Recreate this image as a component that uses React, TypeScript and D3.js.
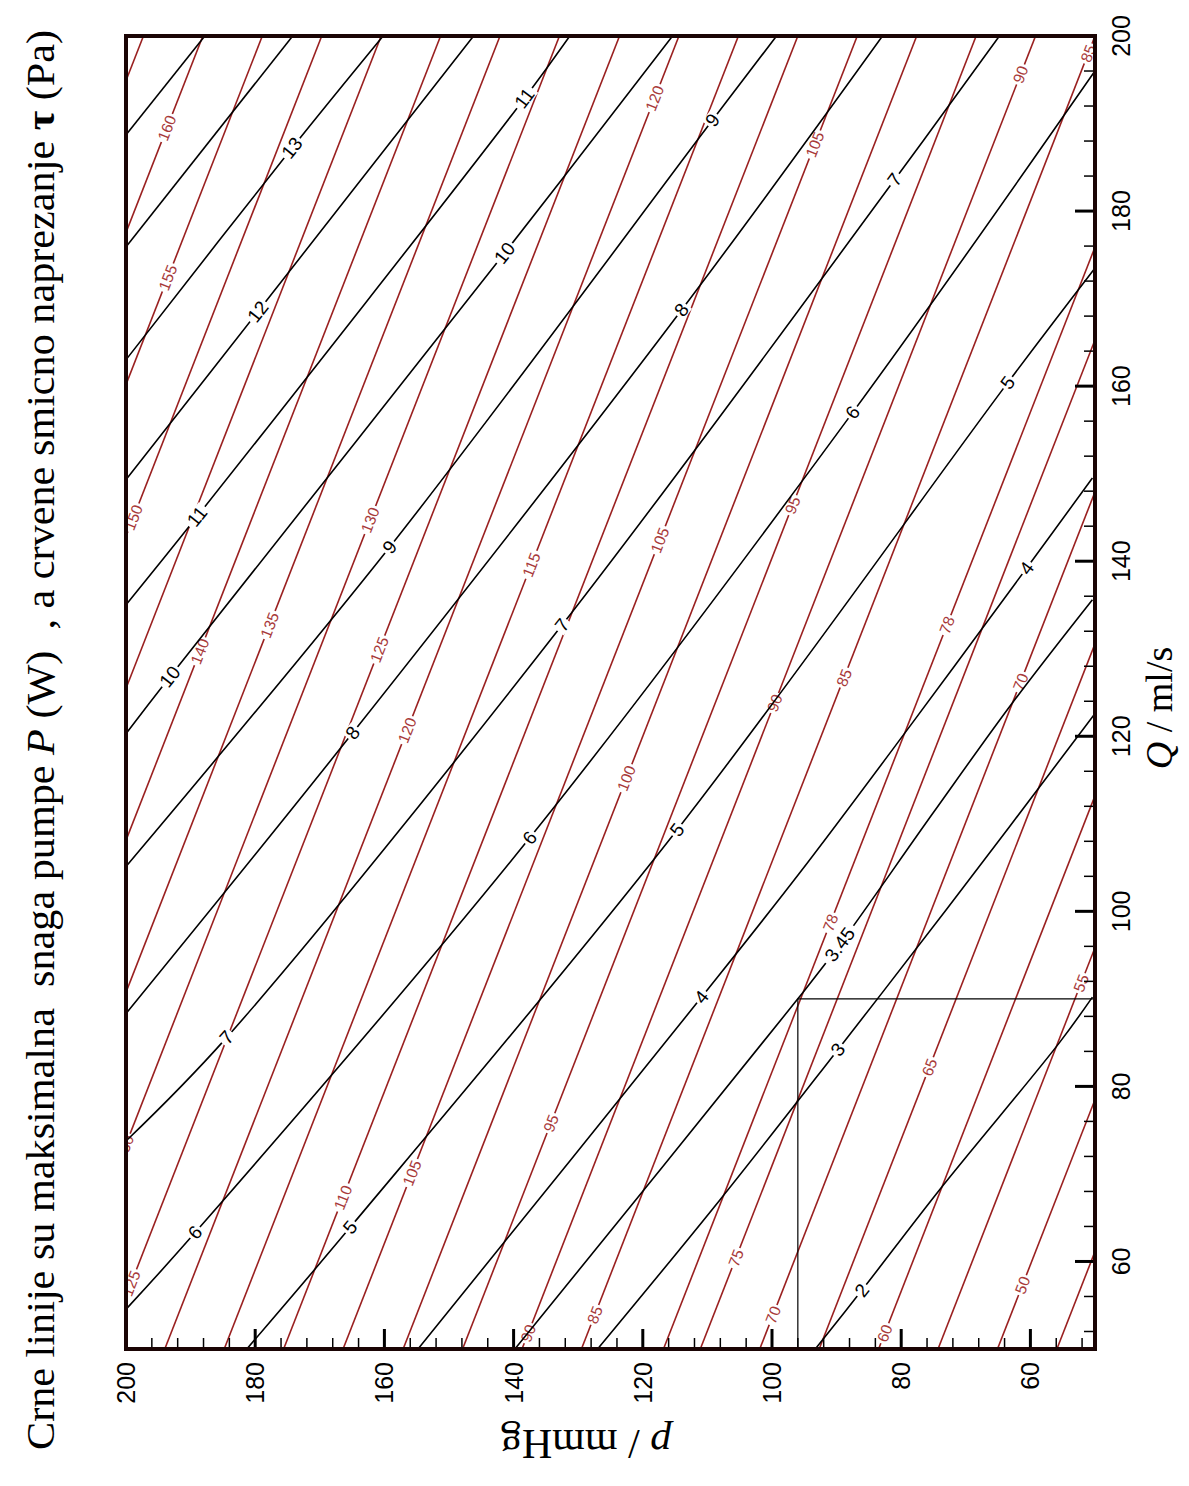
import React from 'react';
import * as d3 from 'd3';

const W = 1189;
const H = 1486;

// Axis ticks (values)
const qMajorTicks = [60, 80, 100, 120, 140, 160, 180, 200];
const pMajorTicks = [60, 80, 100, 120, 140, 160, 180, 200];
const minorStep = 4;

// Operating point marked with drop lines
const opQ = 90;
const opP = 96;

// Black iso-power lines P (W): points as Q (ml/s) and p (mmHg)
const powerLines = [
  { P: 15, Q: [188.9, 200], p: [199.8, 187.8] },
  { P: 14, Q: [176.1, 200], p: [199.8, 174.2] },
  { P: 13, Q: [163.2, 187.2, 200], p: [199.8, 174.3, 160.2] },
  { P: 12, Q: [149.5, 168.5, 200], p: [199.8, 179.6, 146.2] },
  { P: 11, Q: [135.2, 145.1, 192.9, 200], p: [199.8, 189.0, 138.3, 131.3] },
  { P: 10, Q: [120.5, 126.8, 175.2, 200], p: [199.8, 193.2, 141.4, 115.4] },
  { P: 9, Q: [105.3, 141.6, 190.4, 200], p: [199.8, 159.2, 109.2, 99.3] },
  { P: 8, Q: [88.5, 120.4, 168.7, 200], p: [199.8, 164.9, 114.0, 82.9] },
  { P: 7, Q: [73.9, 85.6, 132.7, 183.6, 200], p: [199.8, 184.4, 132.5, 81.0, 64.8] },
  { P: 6, Q: [54.7, 63.3, 108.4, 157.0, 195.8], p: [199.8, 189.3, 137.5, 87.5, 50.2] },
  { P: 5, Q: [50, 63.9, 109.3, 160.4, 173.3], p: [181.3, 165.3, 114.7, 63.5, 50.2] },
  { P: 4, Q: [50, 90.2, 104.4, 121.1, 139.2, 149.5], p: [154.8, 110.9, 95.7, 78.7, 60.6, 50.4] },
  { P: 3.45, Q: [50, 90, 96.2, 111.2, 123.8, 135.6], p: [139.8, 96, 89.5, 75.1, 62.8, 50.4] },
  { P: 3, Q: [50, 67.0, 84.2, 100.2, 122.4], p: [127.0, 108.1, 89.8, 73.0, 50.2] },
  { P: 2, Q: [50, 56.7, 68.2, 85.0, 90.2], p: [93.3, 86.1, 74.05, 55.5, 50.4] },
];

// Labels on black lines: level and Q position
const powerLabels = [
  { P: 13, Q: 187.2 }, { P: 12, Q: 168.5 }, { P: 11, Q: 145.1 }, { P: 11, Q: 192.9 },
  { P: 10, Q: 126.8 }, { P: 10, Q: 175.2 }, { P: 9, Q: 141.6 }, { P: 9, Q: 190.4 },
  { P: 8, Q: 120.4 }, { P: 8, Q: 168.7 }, { P: 7, Q: 85.6 }, { P: 7, Q: 132.7 },
  { P: 7, Q: 183.6 }, { P: 6, Q: 63.3 }, { P: 6, Q: 108.4 }, { P: 6, Q: 157.0 },
  { P: 5, Q: 63.9 }, { P: 5, Q: 109.3 }, { P: 5, Q: 160.4 }, { P: 4, Q: 90.2 },
  { P: 4, Q: 139.2 }, { P: 3.45, Q: 96.2 }, { P: 3, Q: 84.2 }, { P: 2, Q: 56.7 },
];

// Red iso-shear-stress lines tau (Pa): p at Q=50 and p at Q=200
const shearLevels = [165, 160, 155, 150, 145, 140, 135, 130, 125, 120, 115, 110, 105, 100, 95, 90, 85, 78, 75, 70, 65, 60, 55, 50, 45];
const shearPAtQ50 = [276.8, 267.6, 258.4, 249.2, 240.0, 230.8, 221.6, 212.4, 203.2, 194.0, 184.8, 175.6, 166.4, 157.1, 147.9, 138.7, 129.5, 116.8, 111.1, 101.9, 92.7, 83.5, 74.3, 65.1, 55.9];
const shearPAtQ200 = [197.3, 188.1, 178.9, 169.7, 160.5, 151.3, 142.1, 132.9, 123.6, 114.4, 105.2, 96.0, 86.8, 77.6, 68.4, 59.2, 50.0, 37.2, 31.6, 22.4, 13.2, 4.0, -5.2, -14.4, -23.6];

const shearLabels = [
  { tau: 160, Q: 189.5 }, { tau: 155, Q: 172.4 }, { tau: 150, Q: 145.0 }, { tau: 140, Q: 129.7 },
  { tau: 135, Q: 132.7 }, { tau: 130, Q: 144.7 }, { tau: 125, Q: 129.9 }, { tau: 120, Q: 120.7 },
  { tau: 120, Q: 192.9 }, { tau: 115, Q: 139.6 }, { tau: 105, Q: 142.4 }, { tau: 105, Q: 187.6 },
  { tau: 100, Q: 115.2 }, { tau: 95, Q: 146.4 }, { tau: 90, Q: 123.8 }, { tau: 90, Q: 195.6 },
  { tau: 85, Q: 126.7 }, { tau: 85, Q: 198.0 }, { tau: 78, Q: 132.7 }, { tau: 78, Q: 98.7 },
  { tau: 70, Q: 126.2 }, { tau: 130, Q: 73.0 }, { tau: 125, Q: 57.5 }, { tau: 110, Q: 67.3 },
  { tau: 105, Q: 70.1 }, { tau: 95, Q: 75.8 }, { tau: 90, Q: 51.8 }, { tau: 85, Q: 53.9 },
  { tau: 75, Q: 60.4 }, { tau: 70, Q: 53.9 }, { tau: 65, Q: 82.2 }, { tau: 60, Q: 51.8 },
  { tau: 50, Q: 57.3 }, { tau: 55, Q: 91.8 },
];

const RED = '#9a2020';
const RED_TEXT = '#a83a3a';
const SANS = '"Liberation Sans", Arial, Helvetica, sans-serif';
const SERIF = '"Liberation Serif", "Times New Roman", Times, serif';

function interp(Qs: number[], ps: number[], q: number): number {
  let i = 0;
  while (i < Qs.length - 2 && q > Qs[i + 1]) i++;
  const t = (q - Qs[i]) / (Qs[i + 1] - Qs[i]);
  return ps[i] + t * (ps[i + 1] - ps[i]);
}

export default function App() {
  const x = d3.scaleLinear().domain([50, 200]).range([1095, 126]); // p -> horizontal
  const y = d3.scaleLinear().domain([50, 200]).range([1349, 36]); // Q -> vertical

  const line = d3
    .line<[number, number]>()
    .x((d) => x(d[1]))
    .y((d) => y(d[0]))
    .curve(d3.curveCatmullRom.alpha(0.5));

  const x0 = x(200), x1 = x(50), y0 = y(200), y1 = y(50);

  const minorVals = d3.range(52, 200.01, minorStep).filter((v) => v % 20 !== 0);

  const labelEl = (
    key: string,
    px: number,
    py: number,
    ang: number,
    text: string,
    fs: number,
    color: string
  ) => {
    const w = text.length * fs * 0.56 + 4;
    const h = fs * 0.8;
    return (
      <g key={key} transform={`translate(${px},${py}) rotate(${ang})`}>
        <rect x={-w / 2} y={-h / 2} width={w} height={h} fill="#fff" />
        <text
          textAnchor="middle"
          dominantBaseline="central"
          fontFamily={SANS}
          fontSize={fs}
          fill={color}
        >
          {text}
        </text>
      </g>
    );
  };

  return (
    <svg
      width={W}
      height={H}
      viewBox={`0 0 ${W} ${H}`}
      style={{ position: 'absolute', left: 0, top: 0, display: 'block', background: '#fff' }}
    >
      <defs>
        <clipPath id="plotClip">
          <rect x={x0} y={y0} width={x1 - x0} height={y1 - y0} />
        </clipPath>
      </defs>
      <rect x={0} y={0} width={W} height={H} fill="#fff" />

      <g clipPath="url(#plotClip)">
        {/* red shear lines */}
        {shearLevels.map((lv, i) => (
          <line
            key={`r${lv}`}
            x1={x(shearPAtQ50[i])}
            y1={y(50)}
            x2={x(shearPAtQ200[i])}
            y2={y(200)}
            stroke={RED}
            strokeWidth={1.6}
          />
        ))}
        {/* red labels */}
        {shearLabels.map((lb, j) => {
          const i = shearLevels.indexOf(lb.tau);
          const pB = shearPAtQ50[i], pT = shearPAtQ200[i];
          const pv = pB + ((pT - pB) * (lb.Q - 50)) / 150;
          const ang = (Math.atan2(y(200) - y(50), x(pT) - x(pB)) * 180) / Math.PI;
          return labelEl(`rl${j}`, x(pv), y(lb.Q), ang, String(lb.tau), 15.5, RED_TEXT);
        })}
        {/* black power lines */}
        {powerLines.map((pl) => (
          <path
            key={`b${pl.P}`}
            d={line(pl.Q.map((q, k) => [q, pl.p[k]] as [number, number])) || ''}
            fill="none"
            stroke="#000"
            strokeWidth={1.6}
          />
        ))}
        {/* black labels */}
        {powerLabels.map((lb, j) => {
          const pl = powerLines.find((l) => l.P === lb.P)!;
          const pv = interp(pl.Q, pl.p, lb.Q);
          const pa = interp(pl.Q, pl.p, lb.Q - 2);
          const pb = interp(pl.Q, pl.p, lb.Q + 2);
          const ang = (Math.atan2(y(lb.Q + 2) - y(lb.Q - 2), x(pb) - x(pa)) * 180) / Math.PI;
          return labelEl(`bl${j}`, x(pv), y(lb.Q), ang, String(lb.P), 19, '#000');
        })}
        {/* drop lines from operating point */}
        <line x1={x(opP)} y1={y(opQ)} x2={x(50)} y2={y(opQ)} stroke="#000" strokeWidth={1.2} />
        <line x1={x(opP)} y1={y(opQ)} x2={x(opP)} y2={y(50)} stroke="#000" strokeWidth={1.2} />
      </g>

      {/* ticks: Q on right edge, p on bottom edge, pointing inward */}
      {qMajorTicks.map((q) => (
        <line key={`qM${q}`} x1={x1} x2={x1 - 20} y1={y(q)} y2={y(q)} stroke="#000" strokeWidth={3} />
      ))}
      {minorVals.map((q) => (
        <line key={`qm${q}`} x1={x1} x2={x1 - 11} y1={y(q)} y2={y(q)} stroke="#000" strokeWidth={1.5} />
      ))}
      {pMajorTicks.map((p) => (
        <line key={`pM${p}`} x1={x(p)} x2={x(p)} y1={y1} y2={y1 - 20} stroke="#000" strokeWidth={3} />
      ))}
      {minorVals.map((p) => (
        <line key={`pm${p}`} x1={x(p)} x2={x(p)} y1={y1} y2={y1 - 11} stroke="#000" strokeWidth={1.5} />
      ))}

      {/* frame */}
      <rect x={x0} y={y0} width={x1 - x0} height={y1 - y0} fill="none" stroke="#1a0404" strokeWidth={4} />

      {/* tick labels */}
      {qMajorTicks.map((q) => (
        <text
          key={`qt${q}`}
          transform={`translate(1121,${y(q)}) rotate(-90)`}
          textAnchor="middle"
          dominantBaseline="central"
          fontFamily={SANS}
          fontSize={25}
          fill="#000"
        >
          {q}
        </text>
      ))}
      {pMajorTicks.map((p) => (
        <text
          key={`pt${p}`}
          transform={`translate(${x(p)},1362) rotate(-90)`}
          textAnchor="end"
          dominantBaseline="central"
          fontFamily={SANS}
          fontSize={25}
          fill="#000"
        >
          {p}
        </text>
      ))}

      {/* axis titles */}
      <text
        transform="translate(1172,708) rotate(-90)"
        textAnchor="middle"
        fontFamily={SERIF}
        fontSize={38}
        fill="#000"
      >
        <tspan fontStyle="italic">Q</tspan>
        <tspan> / ml/s</tspan>
      </text>
      <text
        transform="translate(586,1430) rotate(180)"
        textAnchor="middle"
        fontFamily={SERIF}
        fontSize={42}
        fill="#000"
      >
        <tspan fontStyle="italic">p</tspan>
        <tspan> / mmHg</tspan>
      </text>

      {/* title */}
      <text
        transform="translate(54,1450) rotate(-90)"
        textAnchor="start"
        fontFamily={SERIF}
        fontSize={40}
        fill="#000"
        textLength={1420}
        lengthAdjust="spacingAndGlyphs"
        style={{ whiteSpace: 'pre' }}
      >
        <tspan>{'Crne linije su maksimalna  snaga pumpe '}</tspan>
        <tspan fontStyle="italic">P</tspan>
        <tspan>{' (W)  , a crvene smicno naprezanje '}</tspan>
        <tspan fontWeight="bold">τ</tspan>
        <tspan>{' (Pa)'}</tspan>
      </text>
    </svg>
  );
}
